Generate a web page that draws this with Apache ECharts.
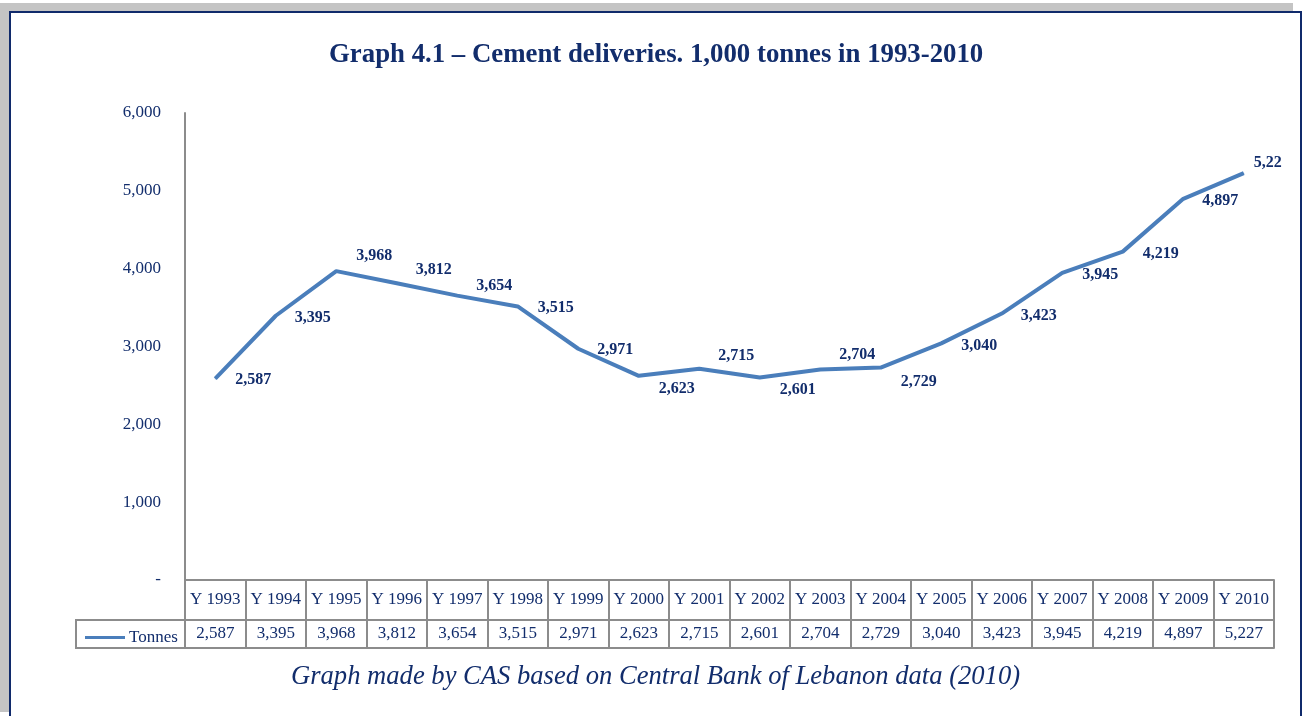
<!DOCTYPE html>
<html>
<head>
<meta charset="utf-8">
<script src="https://cdn.jsdelivr.net/npm/echarts@6/dist/echarts.min.js"></script>
<style>
  html, body { margin: 0; padding: 0; background: #fff; }
  #shade { position: absolute; left: 0; top: 3px; width: 1293px; height: 709px; background: #c4c4c4; }
  #frame { position: absolute; left: 9px; top: 11px; width: 1289px; height: 720px; background: #fff; border: 2px solid #102a6b; }
  #chart { position: absolute; left: 0; top: 0; width: 1303px; height: 716px; }
</style>
</head>
<body>
<div id="shade"></div>
<div id="frame"></div>
<div id="chart"></div>
<script>
const years = ['Y 1993', 'Y 1994', 'Y 1995', 'Y 1996', 'Y 1997', 'Y 1998', 'Y 1999', 'Y 2000', 'Y 2001',
  'Y 2002', 'Y 2003', 'Y 2004', 'Y 2005', 'Y 2006', 'Y 2007', 'Y 2008', 'Y 2009', 'Y 2010'];
const tonnes = [2587, 3395, 3968, 3812, 3654, 3515, 2971, 2623, 2715, 2601, 2704, 2729, 3040, 3423, 3945, 4219, 4897, 5227];
const yTicks = [0, 1000, 2000, 3000, 4000, 5000, 6000];
const seriesName = 'Tonnes';
const titleText = 'Graph 4.1 – Cement deliveries. 1,000 tonnes in 1993-2010';
const sourceText = 'Graph made by CAS based on Central Bank of Lebanon data (2010)';

// where each data label sits relative to its point (as in the original)
const labelOffsets = [[38, 1], [37, 2], [38, -15], [37, -13], [37, -10], [38, 1], [37, 1], [38, 13], [37, -13],
  [38, 12], [37, -15], [38, 14], [38, 2], [37, 2], [38, 2], [38, 2], [37, 2], [10, -10]];

const navy = '#122d6c';
const serif = '"Liberation Serif", "Times New Roman", serif';
const gridCol = '#8c8c8c';
const fmt = v => v.toLocaleString('en-US');

let chart = echarts.init(document.getElementById('chart'));

let points = tonnes.map((v, i) => {
  let label = { offset: labelOffsets[i] };
  if (i === tonnes.length - 1) {
    // last label is cut off by the plot edge in the original
    label.align = 'left';
    label.width = 29;
    label.overflow = 'truncate';
    label.ellipsis = '';
  }
  return { value: v, label: label };
});

let option = {
  animation: false,
  title: [
    {
      text: titleText,
      left: 329,
      top: 42,
      padding: 0,
      textStyle: { fontFamily: serif, fontSize: 26.8, fontWeight: 'bold', color: navy }
    },
    {
      text: sourceText,
      left: 291,
      top: 663,
      padding: 0,
      textStyle: { fontFamily: serif, fontSize: 26.6, fontStyle: 'italic', fontWeight: 'normal', color: navy }
    }
  ],
  legend: {
    data: [seriesName],
    left: 80,
    top: 624,
    icon: 'rect',
    itemWidth: 40,
    itemHeight: 3,
    itemGap: 4,
    textStyle: { fontFamily: serif, fontSize: 17, color: navy, padding: [0, 0, 0, -1] }
  },
  grid: { left: 185, right: 29, top: 113, bottom: 136 },
  xAxis: [
    {
      type: 'category',
      data: years,
      position: 'bottom',
      axisLine: { lineStyle: { color: gridCol, width: 2 } },
      axisTick: { show: true, interval: 0, length: 40, lineStyle: { color: gridCol, width: 2 } },
      axisLabel: { interval: 0, margin: 11, fontFamily: serif, fontSize: 17, color: navy }
    },
    {
      type: 'category',
      data: years,
      position: 'bottom',
      offset: 40,
      axisLine: { lineStyle: { color: gridCol, width: 2 } },
      axisTick: { show: true, interval: 0, length: 28, lineStyle: { color: gridCol, width: 2 } },
      axisLabel: {
        interval: 0, margin: 5, fontFamily: serif, fontSize: 17, color: navy,
        formatter: (v, i) => fmt(tonnes[i])
      }
    },
    {
      type: 'category',
      data: years,
      position: 'bottom',
      offset: 68,
      axisLine: { lineStyle: { color: gridCol, width: 2 } },
      axisTick: { show: false },
      axisLabel: { show: false }
    }
  ],
  yAxis: {
    type: 'value',
    min: yTicks[0],
    max: yTicks[yTicks.length - 1],
    interval: 1000,
    axisLine: { show: true, lineStyle: { color: gridCol, width: 2 } },
    axisTick: { show: false },
    splitLine: { show: false },
    axisLabel: {
      margin: 24, fontFamily: serif, fontSize: 17, color: navy,
      formatter: v => (v === 0 ? '-' : fmt(v))
    }
  },
  graphic: [
    {
      type: 'rect',
      shape: { x: 76, y: 620, width: 109, height: 28 },
      style: { fill: 'none', stroke: gridCol, lineWidth: 2 },
      z: 10
    }
  ],
  series: [
    {
      name: seriesName,
      type: 'line',
      xAxisIndex: 0,
      data: points,
      symbol: 'circle',
      symbolSize: 1,
      itemStyle: { color: '#4a7ebb' },
      lineStyle: { color: '#4a7ebb', width: 4 },
      label: {
        show: true,
        position: 'inside',
        fontFamily: serif,
        fontSize: 16,
        fontWeight: 'bold',
        color: navy,
        formatter: p => fmt(p.value)
      }
    }
  ]
};

chart.setOption(option);
</script>
</body>
</html>
